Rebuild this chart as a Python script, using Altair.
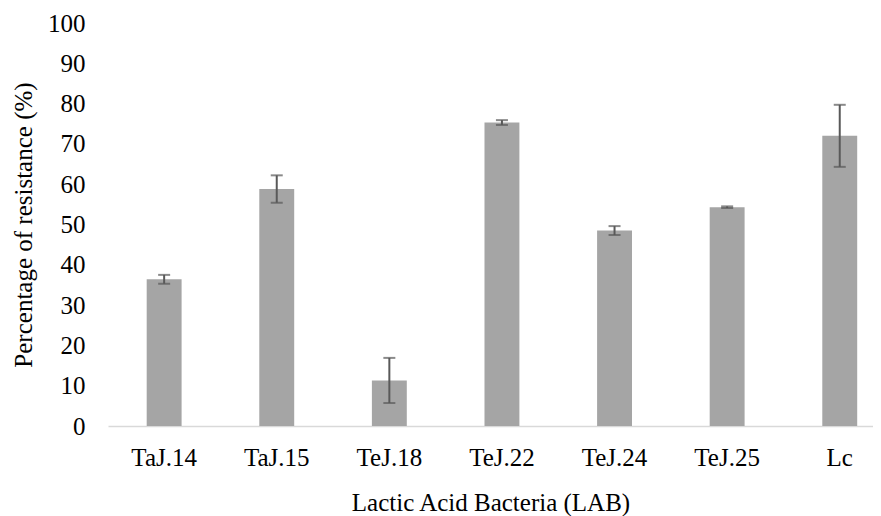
import altair as alt
import pandas as pd

categories = ["TaJ.14", "TaJ.15", "TeJ.18", "TeJ.22", "TeJ.24", "TeJ.25", "Lc"]
values = [36.4, 58.8, 11.3, 75.3, 48.5, 54.3, 72.0]
errors = [1.1, 3.4, 5.6, 0.6, 1.1, 0.2, 7.7]

df = pd.DataFrame({"cat": categories, "val": values, "err": errors})
df["lo"] = df["val"] - df["err"]
df["hi"] = df["val"] + df["err"]

FONT = "Liberation Serif"
FS = 25

xscale = alt.Scale(domain=categories, paddingInner=0.69, paddingOuter=0.242, align=0.71)
yscale = alt.Scale(domain=[0, 100], nice=False)

x = alt.X("cat:N", scale=xscale, sort=categories,
          axis=alt.Axis(title="Lactic Acid Bacteria (LAB)", labelAngle=0, ticks=False,
                        domainColor="#d9d9d9", domainWidth=1.5, labelPadding=19,
                        titlePadding=20))
y = alt.Y("val:Q", scale=yscale,
          axis=alt.Axis(title="Percentage of resistance (%)", values=list(range(0, 101, 10)),
                        ticks=False, domain=False, grid=False, labelPadding=23,
                        titlePadding=11))

bars = alt.Chart(df).mark_bar(color="#a5a5a5").encode(x=x, y=y)
rule = alt.Chart(df).mark_rule(color="#595959", strokeWidth=2).encode(
    x=alt.X("cat:N", scale=xscale, sort=categories), y=alt.Y("lo:Q", scale=yscale), y2="hi:Q")
cap_lo = alt.Chart(df).mark_tick(color="#595959", thickness=2, size=12).encode(
    x=alt.X("cat:N", scale=xscale, sort=categories), y=alt.Y("lo:Q", scale=yscale))
cap_hi = alt.Chart(df).mark_tick(color="#595959", thickness=2, size=12).encode(
    x=alt.X("cat:N", scale=xscale, sort=categories), y=alt.Y("hi:Q", scale=yscale))

chart = alt.layer(bars, rule, cap_lo, cap_hi).properties(
    width=765, height=403,
    autosize=alt.AutoSizeParams(type="none"),
    padding={"left": 100, "top": 15, "right": 0, "bottom": 100},
    background="white",
).configure(font=FONT).configure_axis(
    labelFont=FONT, titleFont=FONT, labelFontSize=FS, titleFontSize=FS,
    labelColor="black", titleColor="black", titleFontWeight="normal",
).configure_view(stroke=None)

chart.save("out.html", embed_options={"renderer": "svg", "actions": False})
